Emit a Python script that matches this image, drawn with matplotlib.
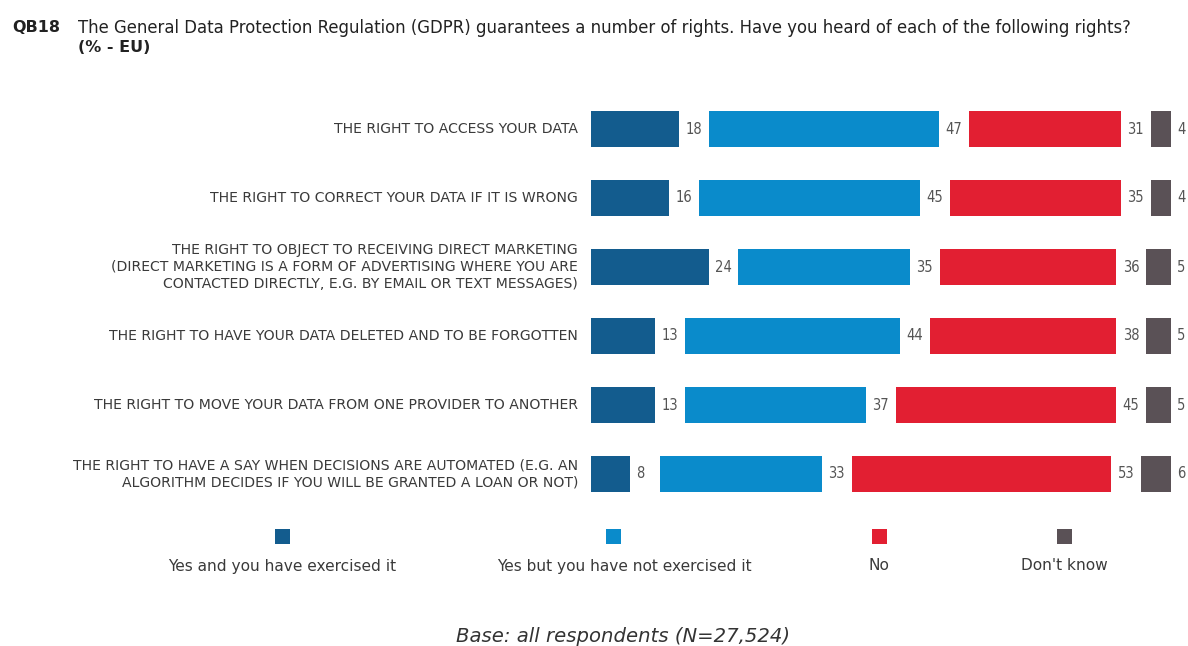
import matplotlib
matplotlib.use("Agg")
import matplotlib.pyplot as plt
import numpy as np

categories = [
    "THE RIGHT TO ACCESS YOUR DATA",
    "THE RIGHT TO CORRECT YOUR DATA IF IT IS WRONG",
    "THE RIGHT TO OBJECT TO RECEIVING DIRECT MARKETING\n(DIRECT MARKETING IS A FORM OF ADVERTISING WHERE YOU ARE\nCONTACTED DIRECTLY, E.G. BY EMAIL OR TEXT MESSAGES)",
    "THE RIGHT TO HAVE YOUR DATA DELETED AND TO BE FORGOTTEN",
    "THE RIGHT TO MOVE YOUR DATA FROM ONE PROVIDER TO ANOTHER",
    "THE RIGHT TO HAVE A SAY WHEN DECISIONS ARE AUTOMATED (E.G. AN\nALGORITHM DECIDES IF YOU WILL BE GRANTED A LOAN OR NOT)",
]
series_names = ["Yes and you have exercised it", "Yes but you have not exercised it",
                "No", "Don't know"]
yes_exercised = [18, 16, 24, 13, 13, 8]
yes_not_exercised = [47, 45, 35, 44, 37, 33]
no = [31, 35, 36, 38, 45, 53]
dont_know = [4, 4, 5, 5, 5, 6]

colors = ["#135C8E", "#0A8BCB", "#E21F32", "#5A5156"]
text_col = "#3a3a3a"
plt.rcParams['font.family'] = ['DejaVu Sans']
FC = dict(family='DejaVu Sans', stretch='condensed')
FR = dict(family='DejaVu Sans')

W, H = 1188, 646
fig = plt.figure(figsize=(W / 100, H / 100), dpi=100)
fig.patch.set_facecolor("white")

# axes spanning bar area
ax_left, ax_right = 591, 1188
top_px, bot_px = 94.5, 508.5
ax = fig.add_axes([ax_left / W, 1 - bot_px / H, (ax_right - ax_left) / W, (bot_px - top_px) / H])
px_per_unit = 4.9
ax.set_xlim(0, (ax_right - ax_left) / px_per_unit)
ax.set_ylim(len(categories) - 0.5, -0.5)
ax.axis("off")

gap = 6.1
data = np.array([yes_exercised, yes_not_exercised, no, dont_know], dtype=float)
y = np.arange(len(categories))
for i in range(len(categories)):
    left = 0.0
    for k in range(4):
        v = data[k, i]
        ax.barh(y[i], v, left=left, height=0.52, color=colors[k], linewidth=0)
        ax.text(left + v + 1.3, y[i], f"{int(v)}", va="center", ha="left",
                fontsize=10.5, color="#555555", **FC)
        left += v + gap

for i, c in enumerate(categories):
    fig.text(578 / W, 1 - (129 + 69 * i) / H, c, ha="right", va="center",
             fontsize=10.1, color=text_col, linespacing=1.3, **FR)

# title
fig.text(12 / W, 1 - 28 / H, "QB18", fontsize=11.5, fontweight="bold", color="#222222",
         va="center", ha="left", **FR)
fig.text(78 / W, 1 - 28 / H,
         "The General Data Protection Regulation (GDPR) guarantees a number of rights. Have you heard of each of the following rights?",
         fontsize=11.9, color="#222222", va="center", ha="left", **FR)
fig.text(78 / W, 1 - 48 / H, "(% - EU)", fontsize=11.5, fontweight="bold", color="#222222",
         va="center", ha="left", **FR)

# legend
leg_x = [282, 613, 879, 1064]
lax = fig.add_axes([0, 0, 1, 1], facecolor="none")
lax.set_xlim(0, W)
lax.set_ylim(H, 0)
lax.axis("off")
for k in range(4):
    lax.add_patch(plt.Rectangle((leg_x[k] - 7, 529), 15, 15, color=colors[k], linewidth=0))
    lab_x = leg_x[k] + (11 if k == 1 else 0)
    lax.text(lab_x, 566, series_names[k], ha="center", va="center", fontsize=11.1,
             color=text_col, **FR)

fig.text(623 / W, 1 - 636 / H, "Base: all respondents (N=27,524)", ha="center", va="center",
         fontsize=14.1, style="italic", color="#333333", **FR)

fig.savefig("out.png", dpi=100, facecolor="white")
